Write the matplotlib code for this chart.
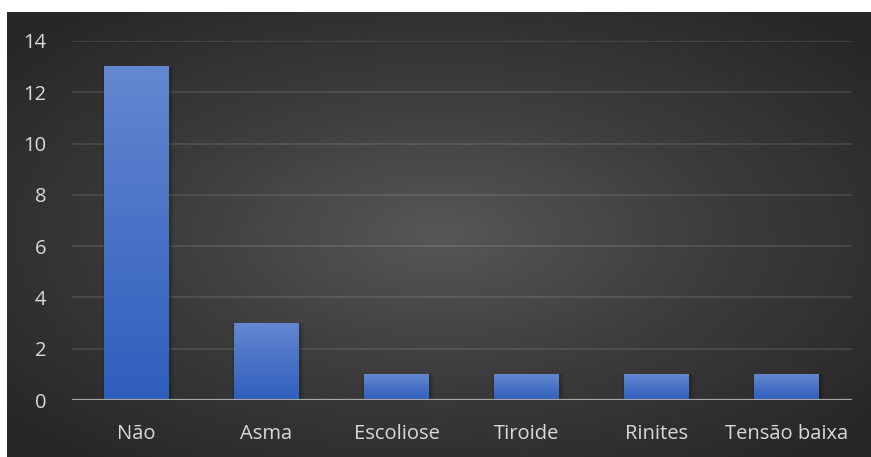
import numpy as np
import matplotlib
matplotlib.use("Agg")
import matplotlib.pyplot as plt
from matplotlib.colors import LinearSegmentedColormap

# chart data
categories = ["Não", "Asma", "Escoliose", "Tiroide", "Rinites", "Tensão baixa"]
values = [13, 3, 1, 1, 1, 1]
yticks = [0, 2, 4, 6, 8, 10, 12, 14]

W, H = 871, 457
fig = plt.figure(figsize=(W / 100, H / 100), dpi=100)
fig.patch.set_facecolor("white")

# dark radial background panel
bg = fig.add_axes([7 / W, 0, 1 - 7 / W, 1 - 12 / H])
yy, xx = np.mgrid[-1:1:300j, -1:1:500j]
r = np.sqrt(xx ** 2 + yy ** 2)
cmap_bg = LinearSegmentedColormap.from_list("bg", ["#575757", "#3c3c3c", "#272727"])
bg.imshow(r, cmap=cmap_bg, aspect="auto", extent=[0, 1, 0, 1], vmin=0, vmax=1.3)
bg.set_axis_off()

ax = fig.add_axes([71.5 / W, 1 - 400 / H, 780 / W, 359 / H])
ax.patch.set_alpha(0)
x = np.arange(len(categories))

# gradient bars with soft shadow
cmap_bar = LinearSegmentedColormap.from_list("bar", ["#2e5ebd", "#6487d0"])
grad = np.linspace(0, 1, 256).reshape(-1, 1)
for xi, v in zip(x, values):
    for k, a in [(0.05, 0.06), (0.03, 0.08), (0.015, 0.1)]:
        ax.bar(xi + 0.01, v + k * 2, width=0.5 + k, bottom=-k * 2, color="black",
               alpha=a, zorder=2)
    ax.imshow(grad, cmap=cmap_bar, origin="lower", aspect="auto",
              extent=[xi - 0.25, xi + 0.25, 0, v], zorder=3)

ax.set_xlim(-0.5, len(categories) - 0.5)
ax.set_ylim(0, 14)

for t in yticks[1:]:
    ax.axhline(t, color="white", alpha=0.1, lw=1.5, zorder=1)
ax.axhline(0, color="#a6a6a6", lw=1.6, zorder=4)

for s in ax.spines.values():
    s.set_visible(False)
ax.set_yticks(yticks)
ax.set_xticks(x)
ax.set_xticklabels(categories)
ax.tick_params(length=0, colors="#d9d9d9", labelsize=14.5)
ax.tick_params(axis="y", pad=18)
ax.tick_params(axis="x", pad=17)
for lab in ax.get_xticklabels() + ax.get_yticklabels():
    lab.set_family("Open Sans")

fig.savefig("out.png", dpi=100, facecolor=fig.get_facecolor())
